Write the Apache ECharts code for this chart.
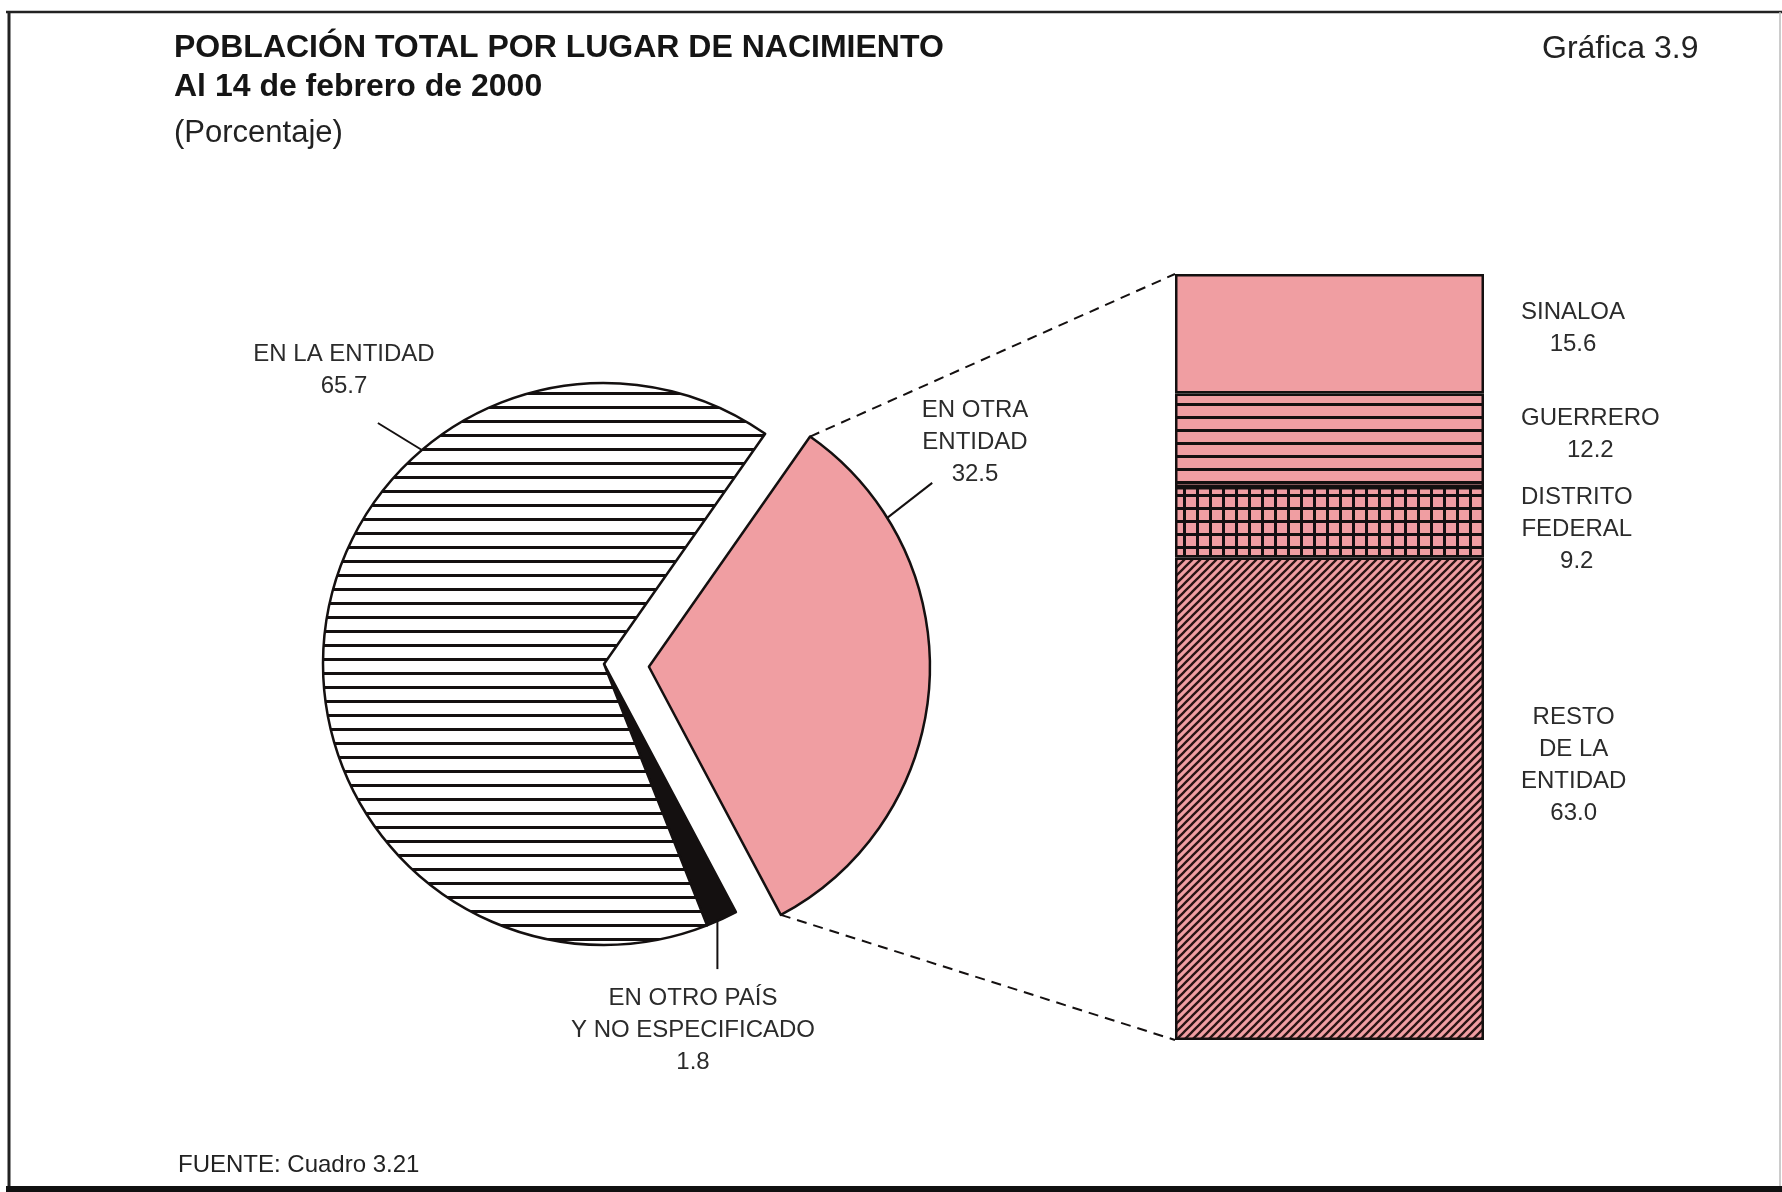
<!DOCTYPE html>
<html><head><meta charset="utf-8">
<script src="https://cdn.jsdelivr.net/npm/echarts@6/dist/echarts.min.js"></script>
<style>html,body{margin:0;padding:0;background:#fff}#c{width:1782px;height:1192px}</style>
</head><body><div id="c"></div>
<script>
// ---------------- data ----------------
const pieNames = ['EN OTRA\nENTIDAD', 'EN OTRO PAÍS\nY NO ESPECIFICADO', 'EN LA ENTIDAD'];
const pieValues = [32.5, 1.8, 65.7];
const barCategories = ['EN OTRA ENTIDAD'];
const barNames = ['RESTO\nDE LA\nENTIDAD', 'DISTRITO\nFEDERAL', 'GUERRERO', 'SINALOA'];
const barValues = [63.0, 9.2, 12.2, 15.6];
const titleText = 'POBLACIÓN TOTAL POR LUGAR DE NACIMIENTO';
const subtitleText = 'Al 14 de febrero de 2000';
const unitText = '(Porcentaje)';
const chartNumber = 'Gráfica 3.9';
const sourceText = 'FUENTE: Cuadro 3.21';

// ---------------- layout / style ----------------
const FONT = "'Liberation Sans', Arial, Helvetica, sans-serif";
const PINK = '#f09ea2';
const INK = '#141010';
const TXT = '#2b2b2b';
const CX = 604, CY = 664, R = 281, START = 55, EXPLODE = 45;
const EXPLODED_INDEX = 0;
const GRID = {left: 1175, top: 274, width: 309, height: 766};
const PIE_LABEL_POS = [[975, 442], [693, 1030], [344, 370]];
const PIE_LEADER = [{ang: 32, dx: 45, dy: -35}, {ang: -66.2, dx: 0, dy: 48}, {ang: 130.4, dx: -44, dy: -27}];
const BAR_LABEL_GAP = 37;
const BAR_LABEL_DY = [-33, 7, -6, -5];

function makePattern(w, h, draw) {
  const c = document.createElement('canvas'); c.width = w; c.height = h;
  const g = c.getContext('2d'); draw(g, w, h);
  return {image: c, repeat: 'repeat'};
}
const hatchWhite = makePattern(16, 14, (g, w, h) => { g.fillStyle = '#fff'; g.fillRect(0, 0, w, h); g.fillStyle = INK; g.fillRect(0, 0, w, 3); });
const hatchPink = makePattern(16, 13, (g, w, h) => { g.fillStyle = PINK; g.fillRect(0, 0, w, h); g.fillStyle = INK; g.fillRect(0, 0, w, 3); });
const gridPink = makePattern(13, 13, (g, w, h) => { g.fillStyle = INK; g.fillRect(0, 0, w, h); g.fillStyle = PINK; g.fillRect(3, 3, 10, 10); });
const diagPink = makePattern(8, 8, (g, w, h) => {
  g.fillStyle = PINK; g.fillRect(0, 0, w, h);
  g.strokeStyle = '#2a1414'; g.lineWidth = 2.3; g.beginPath();
  g.moveTo(-2, 10); g.lineTo(10, -2); g.moveTo(-2, 2); g.lineTo(2, -2); g.moveTo(6, 10); g.lineTo(10, 6); g.stroke();
});
const pieFills = [PINK, INK, hatchWhite];
const barFills = [diagPink, gridPink, hatchPink, PINK];

const total = pieValues.reduce((a, b) => a + b, 0);
function sliceAngles(i) {
  let cum = 0; for (let k = 0; k < i; k++) cum += pieValues[k];
  return [START - cum / total * 360, START - (cum + pieValues[i]) / total * 360];
}
function sliceCenter(i) {
  if (i !== EXPLODED_INDEX) return [CX, CY];
  const [a0, a1] = sliceAngles(i); const m = (a0 + a1) / 2 * Math.PI / 180;
  return [CX + EXPLODE * Math.cos(m), CY - EXPLODE * Math.sin(m)];
}
function arcPt(c, deg) { const a = deg * Math.PI / 180; return [c[0] + R * Math.cos(a), c[1] - R * Math.sin(a)]; }

const pc = sliceCenter(EXPLODED_INDEX);
const [pa0, pa1] = sliceAngles(EXPLODED_INDEX);
const pinkTop = arcPt(pc, pa0), pinkBot = arcPt(pc, pa1);

const textStyle = {fontFamily: FONT, fontSize: 24, color: TXT, lineHeight: 32};

const barSeries = barNames.map((n, i) => ({
  type: 'bar', name: n, stack: 'a', barWidth: '100%',
  data: [barValues[i]],
  itemStyle: {color: barFills[i], borderColor: INK, borderWidth: 2.5},
  label: {show: true, position: 'right', formatter: p => p.seriesName + '\n' + Number(p.value).toFixed(1), ...textStyle},
  labelLayout: p => ({
    x: p.rect.x + p.rect.width + BAR_LABEL_GAP + p.labelRect.width / 2,
    y: p.rect.y + p.rect.height / 2 + BAR_LABEL_DY[i],
    align: 'center', verticalAlign: 'middle'
  }),
  emphasis: {disabled: true}, silent: true
}));

// two pie layers: the main pie and the exploded slice drawn with a shifted centre
function pieLayer(exploded) {
  return {
    type: 'pie', center: exploded ? pc : [CX, CY], radius: R, startAngle: START, clockwise: true,
    avoidLabelOverlap: false, emphasis: {disabled: true}, silent: true,
    label: {show: true, position: 'outside', formatter: p => p.name + '\n' + p.value, ...textStyle, align: 'center'},
    labelLine: {show: true, lineStyle: {color: INK, width: 2}},
    labelLayout: p => {
      const i = p.dataIndex, L = PIE_LEADER[i];
      const p0 = arcPt(sliceCenter(i), L.ang);
      const p1 = [p0[0] + L.dx, p0[1] + L.dy];
      return {x: PIE_LABEL_POS[i][0], y: PIE_LABEL_POS[i][1], align: 'center', verticalAlign: 'middle', labelLinePoints: [p0, p1, p1]};
    },
    data: pieNames.map((n, i) => {
      const visible = (i === EXPLODED_INDEX) === exploded;
      return {
        name: n, value: pieValues[i],
        itemStyle: visible ? {color: pieFills[i], borderColor: INK, borderWidth: 2.5} : {color: 'rgba(0,0,0,0)', borderWidth: 0},
        label: {show: visible}, labelLine: {show: visible}
      };
    })
  };
}

const option = {
  animation: false,
  backgroundColor: '#fff',
  grid: {left: GRID.left, top: GRID.top, width: GRID.width, height: GRID.height},
  xAxis: {type: 'category', data: barCategories, show: false},
  yAxis: {type: 'value', min: 0, max: 100, show: false},
  series: barSeries.concat([pieLayer(false), pieLayer(true)]),
  graphic: [
    {type: 'line', silent: true, shape: {x1: 6, y1: 12, x2: 1782, y2: 12}, style: {stroke: '#222', lineWidth: 2.5}},
    {type: 'line', silent: true, shape: {x1: 9, y1: 12, x2: 9, y2: 1188}, style: {stroke: '#222', lineWidth: 3}},
    {type: 'line', silent: true, shape: {x1: 1780, y1: 12, x2: 1780, y2: 1188}, style: {stroke: '#bbb', lineWidth: 1.5}},
    {type: 'rect', silent: true, shape: {x: 6, y: 1186, width: 1776, height: 6}, style: {fill: '#111'}},
    {type: 'polyline', silent: true, shape: {points: [pinkTop, [GRID.left, GRID.top]]}, style: {stroke: INK, lineWidth: 2, lineDash: [10, 7], fill: null}},
    {type: 'polyline', silent: true, shape: {points: [pinkBot, [GRID.left, GRID.top + GRID.height]]}, style: {stroke: INK, lineWidth: 2, lineDash: [10, 7], fill: null}},
    {type: 'text', silent: true, x: 174, y: 48, style: {text: titleText, font: 'bold 32px ' + FONT, fill: '#151515', textVerticalAlign: 'middle'}},
    {type: 'text', silent: true, x: 174, y: 87, style: {text: subtitleText, font: 'bold 32px ' + FONT, fill: '#151515', textVerticalAlign: 'middle'}},
    {type: 'text', silent: true, x: 174, y: 133, style: {text: unitText, font: '31px ' + FONT, fill: '#222', textVerticalAlign: 'middle'}},
    {type: 'text', silent: true, x: 1542, y: 49, style: {text: chartNumber, font: '32px ' + FONT, fill: '#222', textVerticalAlign: 'middle'}},
    {type: 'text', silent: true, x: 178, y: 1165, style: {text: sourceText, font: '24px ' + FONT, fill: '#222', textVerticalAlign: 'middle'}}
  ]
};
const chart = echarts.init(document.getElementById('c'), null, {renderer: 'canvas'});
chart.setOption(option);
</script>
</body></html>
